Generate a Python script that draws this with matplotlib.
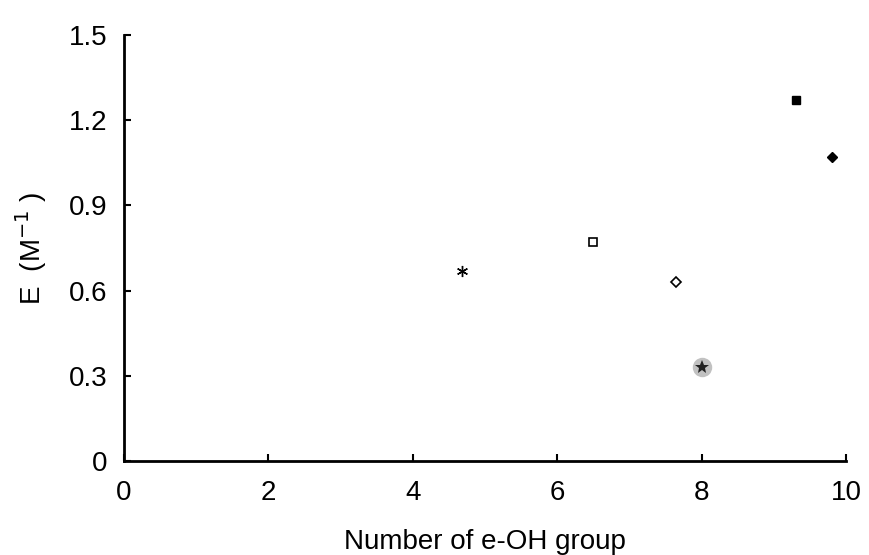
import matplotlib.pyplot as plt
import numpy as np

plt.rcParams['font.family'] = ['Liberation Sans', 'DejaVu Sans']

# Points
x_star, y_star = [4.68], [0.67]
x_osq, y_osq = [6.5], [0.77]
x_odia, y_odia = [7.64], [0.63]
x_fsq, y_fsq = [9.31], [1.27]
x_fdia, y_fdia = [9.8], [1.07]
x_blur, y_blur = [8.0], [0.33]

xticks = [0, 2, 4, 6, 8, 10]
yticks = [0, 0.3, 0.6, 0.9, 1.2, 1.5]
ytick_labels = ['0', '0.3', '0.6', '0.9', '1.2', '1.5']

fig = plt.figure(figsize=(8.69, 5.55), dpi=100)
ax = fig.add_axes([0.1427, 0.1694, 0.8308, 0.7676])

ax.plot(x_star, y_star, ls='none', marker=(6, 2, 0), markersize=8, color='k', mew=1.0)
ax.plot(x_osq, y_osq, ls='none', marker='s', markersize=5.5, mfc='white', mec='k', mew=1.2)
ax.plot(x_odia, y_odia, ls='none', marker='D', markersize=5, mfc='white', mec='k', mew=1.2)
ax.plot(x_fsq, y_fsq, ls='none', marker='s', markersize=6, color='k')
ax.plot(x_fdia, y_fdia, ls='none', marker='D', markersize=5.5, color='k')
ax.plot(x_blur, y_blur, ls='none', marker='o', markersize=14, color='#777777', alpha=0.45, mew=0)
ax.plot(x_blur, y_blur, ls='none', marker='*', markersize=10, color='#222222', mew=0)

ax.set_xlim(0, 10)
ax.set_ylim(0, 1.5)
ax.set_xticks(xticks)
ax.set_yticks(yticks)
ax.set_yticklabels(ytick_labels)
for s in ['top', 'right']:
    ax.spines[s].set_visible(False)
for s in ['left', 'bottom']:
    ax.spines[s].set_linewidth(2)
ax.tick_params(direction='in', length=5, width=1.5, labelsize=20)
ax.tick_params(axis='x', pad=14)
ax.tick_params(axis='y', pad=12)

ax.set_xlabel('Number of e-OH group', fontsize=20, labelpad=16)
ax.set_ylabel(r'E  (M$^{-1}$ )', fontsize=20, labelpad=14)

fig.savefig('out.png', dpi=100)
